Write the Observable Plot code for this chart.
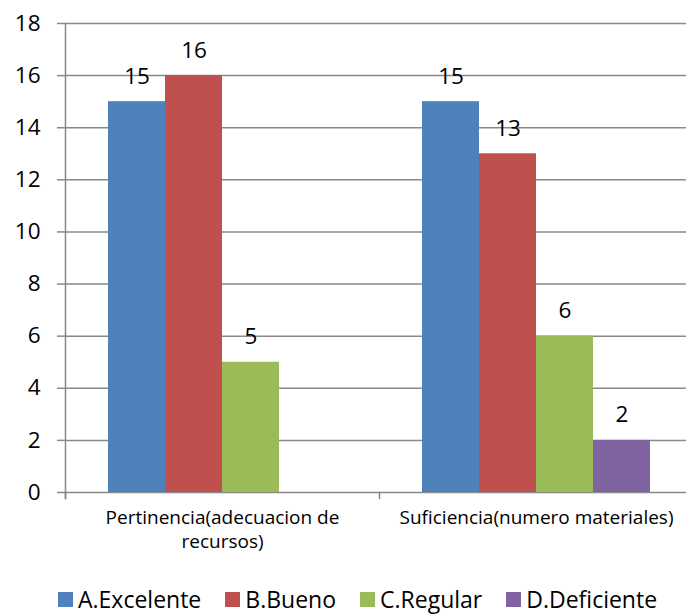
<!DOCTYPE html>
<html><head><meta charset="utf-8">
<script src="https://cdn.jsdelivr.net/npm/d3@7"></script>
<script src="https://cdn.jsdelivr.net/npm/@observablehq/plot@0.6"></script>
<style>
body{margin:0;background:#fff;font-family:"Open Sans", sans-serif;width:686px;overflow:hidden;}
#legend{display:flex;align-items:center;height:48px;padding-left:58px;gap:24px;font-size:23px;color:#000;white-space:nowrap;}
#legend .item{display:flex;align-items:center;gap:5px;}
#legend .sw{width:15px;height:15px;display:inline-block;}
</style></head><body><div id="chart"></div><div id="legend"></div>
<script>
const categories = ["Pertinencia(adecuacion de recursos)", "Suficiencia(numero materiales)"];
const categoryLabels = ["Pertinencia(adecuacion de\nrecursos)", "Suficiencia(numero materiales)"];
const series = ["A.Excelente", "B.Bueno", "C.Regular", "D.Deficiente"];
const pertinencia = [15, 16, 5, null];
const suficiencia = [15, 13, 6, 2];
const colors = ["#4F81BD", "#C0504D", "#9BBB59", "#8064A2"];
const yTicks = [0, 2, 4, 6, 8, 10, 12, 14, 16, 18];

const data = [];
[pertinencia, suficiencia].forEach((vals, i) => {
  series.forEach((s, j) => {
    if (vals[j] != null) data.push({category: categories[i], series: s, value: vals[j]});
  });
});

const gray = "#898989";
const plot = Plot.plot({
  width: 686, height: 575,
  marginLeft: 65, marginRight: -7, marginTop: 23, marginBottom: 83,
  style: {fontFamily: "'Open Sans', sans-serif", background: "white", color: "#000"},
  fx: {domain: categories, padding: 0, label: null},
  x: {domain: series, paddingInner: 0, paddingOuter: 0.754, axis: null},
  y: {domain: [0, 18], label: null},
  color: {domain: series, range: colors},
  marks: [
    Plot.gridY(yTicks, {stroke: gray, strokeOpacity: 1, strokeWidth: 1.5}),
    Plot.axisY(yTicks, {tickSize: 8, tickPadding: 17, fontSize: 22.5, stroke: gray, strokeWidth: 1.5, fill: "#000", label: null}),
    Plot.frame({anchor: "left", fx: [categories[0]], stroke: gray, strokeWidth: 1.5, insetBottom: -6}),
    Plot.frame({anchor: "left", stroke: gray, strokeWidth: 1.5, insetTop: 469, insetBottom: -6}),
    Plot.barY(data, {fx: "category", x: "series", y: "value", fill: "series"}),
    Plot.text(data, {fx: "category", x: "series", y: "value", text: d => String(d.value), dy: -18, lineAnchor: "bottom", fontSize: 22.5, fill: "#000"}),
    Plot.axisFx({anchor: "bottom", tickSize: 0, tickPadding: 14, fontSize: 19, lineHeight: 1.27, fill: "#000", tickFormat: d => categoryLabels[categories.indexOf(d)], label: null})
  ]
});
document.getElementById("chart").appendChild(plot);

const legend = document.getElementById("legend");
series.forEach((s, i) => {
  const item = document.createElement("div");
  item.className = "item";
  const sw = document.createElement("span");
  sw.className = "sw";
  sw.style.background = colors[i];
  const t = document.createElement("span");
  t.textContent = s;
  item.appendChild(sw); item.appendChild(t);
  legend.appendChild(item);
});
</script></body></html>
